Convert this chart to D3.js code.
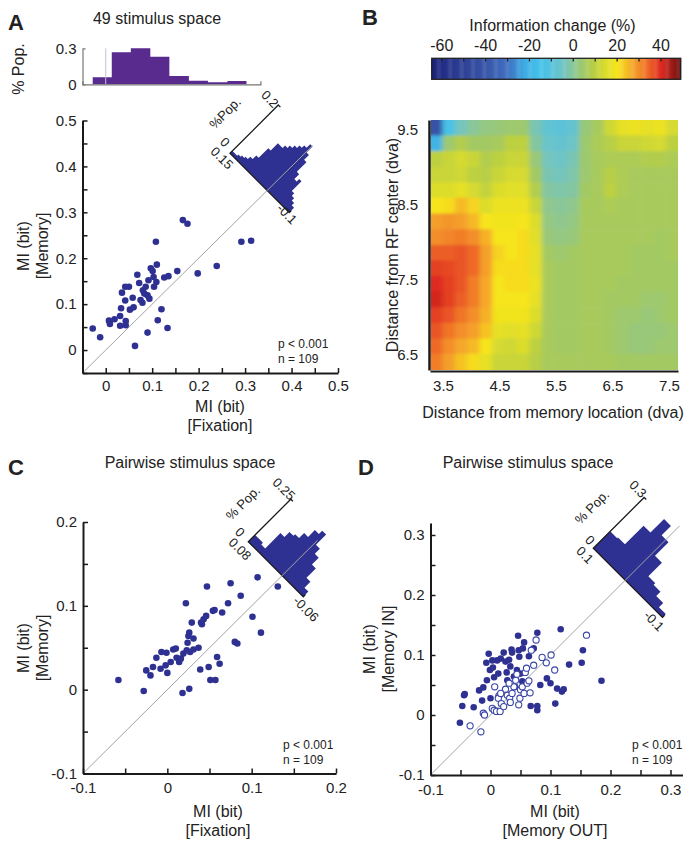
<!DOCTYPE html>
<html><head><meta charset="utf-8">
<script src="https://cdn.jsdelivr.net/npm/d3@7/dist/d3.min.js"></script>
<style>
html,body{margin:0;padding:0;background:#fff;}
svg{display:block;}
</style></head><body>
<svg id="fig" width="694" height="850" xmlns="http://www.w3.org/2000/svg"></svg>
<script>
// ================= DATA =================
// Panel A : 49 stimulus space
const fixA=[-0.028,-0.012,0.007,0.009,0.019,0.031,0.031,0.033,0.035,0.042,0.050,0.042,0.043,0.043,0.052,0.058,0.060,0.063,0.068,0.072,0.075,0.079,0.080,0.083,0.086,0.090,0.090,0.092,0.094,0.097,0.101,0.103,0.104,0.108,0.110,0.109,0.112,0.120,0.126,0.135,0.133,0.154,0.166,0.176,0.198,0.239,0.292,0.313];
const memA=[0.047,0.028,0.064,0.057,0.067,0.053,0.074,0.091,0.125,0.138,0.138,0.108,0.063,0.054,0.088,0.114,0.093,0.009,0.164,0.146,0.109,0.103,0.130,0.123,0.138,0.119,0.038,0.152,0.112,0.178,0.172,0.159,0.138,0.236,0.186,0.148,0.065,0.089,0.158,0.161,0.048,0.172,0.283,0.275,0.167,0.183,0.236,0.238];
const topHistEdges=[-0.028,0.013,0.054,0.096,0.137,0.179,0.220,0.262,0.303];
const topHistPop=[0.058,0.267,0.30,0.23,0.069,0.03,0.017,0.028];
const histAVal=[0.145,0.135,0.125,0.115,0.105,0.095,0.085,0.075,0.065,0.055,0.045,0.035,0.025,0.015,0.005,-0.005,-0.015,-0.025,-0.035,-0.045,-0.055,-0.065,-0.075,-0.085,-0.095];
const histAPop=[0.01,0.01,0.015,0.02,0.025,0.035,0.05,0.09,0.12,0.12,0.13,0.14,0.15,0.16,0.17,0.185,0.16,0.14,0.10,0.08,0.09,0.05,0.04,0.03,0.02];
const ticksA=[-0.05,0,0.05,0.1,0.15,0.2,0.25,0.3,0.35,0.4,0.45,0.5];

// Panel B : information change map
const memDist=[3.38,3.60,3.82,4.04,4.26,4.48,4.70,4.92,5.14,5.36,5.58,5.80,6.02,6.24,6.46,6.68,6.90,7.12,7.34,7.56];
const rfDist=[9.53,9.32,9.11,8.90,8.70,8.49,8.28,8.07,7.86,7.66,7.45,7.24,7.03,6.82,6.62,6.41];
const infoChange=[
[-42,-14,-4,0,2,3,4,4,-3,-8,-9,-7,3,6,13,17,18,17,18,14],
[-20,4,8,5,5,6,10,10,-1,-6,-7,-5,4,7,9,12,12,13,14,10],
[10,12,14,12,8,10,12,12,3,-4,-5,-3,4,6,7,7,7,8,8,7],
[12,12,13,10,9,12,14,14,5,-3,-4,-2,4,6,9,7,6,6,6,6],
[15,15,17,14,11,15,16,16,8,-1,-2,-1,5,6,10,7,6,6,6,6],
[20,21,25,22,15,18,18,18,12,1,0,1,6,6,7,6,6,6,6,6],
[28,29,28,25,20,19,19,20,15,2,1,2,6,6,6,6,6,6,6,6],
[30,31,32,30,26,20,20,21,16,3,2,3,6,6,6,6,6,6,5,6],
[35,35,36,34,28,22,20,21,17,5,4,5,6,6,6,6,5,5,5,6],
[38,37,36,34,28,21,21,21,17,6,5,5,6,6,6,6,5,5,5,5],
[40,38,36,32,27,20,21,21,18,6,5,5,6,6,6,5,5,5,5,5],
[41,38,35,32,27,20,20,20,17,6,5,5,6,6,5,5,5,4,4,5],
[38,36,33,30,26,19,19,19,15,6,5,5,6,6,5,4,4,3,4,5],
[36,33,30,28,24,17,16,17,13,6,5,5,6,6,5,4,3,3,3,4],
[34,30,27,25,20,14,13,15,10,6,5,5,6,6,5,4,3,3,4,4],
[32,28,24,21,17,12,12,12,9,6,6,6,6,6,6,5,5,5,5,5]];
const cbStops=[-65,-60,-40,-30,-22,-15,-10,-5,0,5,10,15,20,27,33,40,49];
const cbColors=["#1b2272","#232d86","#3956a8","#3f6fc2","#3eaee4","#45c2ea","#58c2dc","#6ec4c6","#8ac798","#a3c964","#bcd040","#dcdd2c","#f6e51c","#f5a72a","#f07428","#df2a20","#6a1010"];
const cbTicks=[-60,-50,-40,-30,-20,-10,0,10,20,30,40];
const cbLabels=[-60,-40,-20,0,20,40];
const hmXTicks=[3.5,4.5,5.5,6.5,7.5];
const hmYTicks=[6.5,7.5,8.5,9.5];

// Panel C : pairwise stimulus space
const fixC=[-0.058,-0.028,-0.025,-0.020,-0.017,-0.013,-0.008,-0.007,-0.002,-0.001,0.000,0.004,0.007,0.010,0.011,0.014,0.016,0.018,0.019,0.022,0.023,0.024,0.025,0.026,0.026,0.027,0.029,0.031,0.031,0.037,0.039,0.040,0.041,0.043,0.046,0.047,0.049,0.051,0.054,0.056,0.057,0.059,0.062,0.065,0.072,0.075,0.080,0.083,0.087,0.101,0.111,0.131,0.107];
const memC=[0.0115,-0.0016,0.023,0.017,0.027,0.038,0.025,0.045,0.029,0.044,0.020,0.033,0.048,0.049,0.038,0.033,0.037,-0.004,0.043,0.103,0.047,0.056,0.064,0.068,0.001,0.045,0.080,0.048,0.061,0.050,0.024,0.080,0.078,0.084,0.088,0.123,0.027,0.0115,0.094,0.095,0.0115,0.039,0.031,0.092,0.103,0.127,0.057,0.055,0.112,0.087,0.068,0.123,0.134];
const histCVal=[0.075,0.065,0.055,0.045,0.035,0.025,0.015,0.005,-0.005,-0.015,-0.025,-0.035,-0.045,-0.055];
const histCPop=[0.04,0.04,0.03,0.12,0.15,0.16,0.19,0.23,0.25,0.19,0.16,0.12,0.065,0.03];
const ticksC=[-0.1,-0.05,0,0.05,0.1,0.15,0.2];

// Panel D : Memory IN vs Memory OUT
const outFilled=[-0.051,-0.047,-0.044,-0.043,-0.028,-0.019,-0.014,-0.007,-0.006,-0.003,-0.001,0.000,0.003,0.004,0.006,0.011,0.013,0.017,0.022,0.025,0.027,0.028,0.031,0.033,0.035,0.036,0.039,0.041,0.044,0.046,0.047,0.048,0.050,0.053,0.056,0.054,0.058,0.064,0.067,0.072,0.078,0.078,0.078,0.083,0.094,0.100,0.108,0.111,0.117,0.119,0.122,0.131,0.152,0.154,0.185,-0.012];
const inFilled=[-0.013,0.015,0.033,0.035,0.013,0.041,0.024,0.087,0.058,0.102,0.075,0.028,0.091,0.079,0.063,0.091,0.069,0.094,0.104,0.089,0.071,0.058,0.092,0.081,0.109,0.104,0.064,0.047,0.075,0.132,0.108,0.097,0.069,0.056,0.121,0.111,0.053,0.098,0.015,0.111,0.137,0.015,0.008,0.050,0.061,0.053,0.019,0.044,0.143,0.039,0.043,0.084,0.087,0.108,0.057,0.046];
const outOpen=[-0.034,-0.016,-0.012,-0.010,0.003,0.006,0.010,0.016,0.007,0.014,0.013,0.018,0.022,0.025,0.028,0.032,0.033,0.036,0.039,0.042,0.044,0.047,0.049,0.050,0.053,0.056,0.058,0.060,0.061,0.064,0.066,0.068,0.072,0.076,0.086,0.093,0.101,0.107,0.160,0.031,0.017];
const inOpen=[-0.018,-0.028,0.003,0.000,0.011,0.008,0.006,0.006,0.047,0.032,0.028,0.019,0.014,0.043,0.033,0.028,0.021,0.036,0.047,0.058,0.068,0.017,0.028,0.042,0.047,0.036,0.071,0.078,0.053,0.057,0.037,0.108,0.083,0.125,0.096,0.087,0.100,0.075,0.133,0.053,0.036];
const histDVal=[0.09,0.07,0.05,0.03,0.01,-0.01,-0.03,-0.05,-0.07,-0.09];
const histDPop=[0.10,0.105,0.215,0.295,0.24,0.16,0.08,0.07,0.045,0.02];
const ticksD=[-0.1,-0.05,0,0.05,0.1,0.15,0.2,0.25,0.3];

// ================= DRAW =================
const FONT='"Liberation Sans", Arial, Helvetica, sans-serif';
const DOT="#2e3192", HIST="#2e3192", PURPLE="#5a2b8f", INK="#1a1a1a", TXT="#222";
const svg=d3.select("#fig");

function T(x,y,s,size,opt={}){
  const t=svg.append("text").attr("x",0).attr("y",0).text(s)
    .attr("font-family",FONT).attr("font-size",size).attr("fill",opt.fill||TXT)
    .attr("text-anchor",opt.anchor||"middle")
    .attr("transform",`translate(${x},${y}) rotate(${opt.rot||0})`);
  if(opt.weight) t.attr("font-weight",opt.weight);
  if(opt.baseline) t.attr("dominant-baseline",opt.baseline);
  return t;
}
function fmt1(v){const r=Math.round(v*10)/10;return Math.abs(v-r)<1e-9?(r===0?"0":String(r)):"";}
function styleAxis(g){
  g.attr("font-family",null).attr("font-size",null);
  g.select(".domain").attr("stroke",INK).attr("stroke-width",2);
  g.selectAll(".tick line").attr("stroke",INK).attr("stroke-width",1.5);
  g.selectAll(".tick text").attr("font-size",15).attr("fill",TXT).attr("font-family",FONT);
}
function scatterAxes(x,y,xt,yt,padX,padY){
  svg.append("g").attr("transform",`translate(0,${y.range()[0]})`)
    .call(d3.axisBottom(x).tickValues(xt).tickSizeInner(-5).tickSizeOuter(0).tickPadding(padX).tickFormat(fmt1)).call(styleAxis);
  svg.append("g").attr("transform",`translate(${x.range()[0]},0)`)
    .call(d3.axisLeft(y).tickValues(yt).tickSizeInner(-5).tickSizeOuter(0).tickPadding(padY).tickFormat(fmt1)).call(styleAxis);
}
function diagonal(x,y,lo,hi){
  svg.append("line").attr("x1",x(lo)).attr("y1",y(lo)).attr("x2",x(hi)).attr("y2",y(hi))
    .attr("stroke","#a3a3a3").attr("stroke-width",1);
}
function inset(o){
  const g=svg.append("g").attr("transform",`translate(${o.origin[0]},${o.origin[1]}) rotate(45)`);
  const u=d3.scaleLinear().domain(o.valDomain).range([0,o.uLen]);
  const v=d3.scaleLinear().domain([0,o.popMax]).range([0,o.vLen]);
  const pts=[[u(o.vals[0]+o.binW/2),0]];
  o.vals.forEach((val,i)=>{
    pts.push([u(val+o.binW/2),-v(o.pops[i])]);
    pts.push([u(val-o.binW/2),-v(o.pops[i])]);
  });
  pts.push([u(o.vals[o.vals.length-1]-o.binW/2),0]);
  g.append("path").attr("d",d3.line()(pts)+"Z").attr("fill",HIST).attr("stroke","none");
  g.append("path").attr("d",`M3,${-o.vLen}H0V0H${o.uLen}V-3`).attr("fill","none").attr("stroke",INK).attr("stroke-width",1.3);
}
function dots(x,y,xs,ys,open){
  svg.append("g").selectAll("circle").data(xs).join("circle")
    .attr("cx",d=>x(d)).attr("cy",(d,i)=>y(ys[i])).attr("r",open?3.1:3.3)
    .attr("fill",open?"#fff":DOT).attr("stroke",open?"#3a45a6":"none").attr("stroke-width",open?1.1:0);
}

// ---------- Panel A ----------
const xA=d3.scaleLinear().domain([-0.05,0.5]).range([82.5,338]);
const yA=d3.scaleLinear().domain([-0.05,0.5]).range([373,120.5]);
const yTop=d3.scaleLinear().domain([0,0.3]).range([84.3,48.3]);
const topPts=[[xA(topHistEdges[0]),yTop(0)]];
topHistPop.forEach((p,i)=>{topPts.push([xA(topHistEdges[i]),yTop(p)]);topPts.push([xA(topHistEdges[i+1]),yTop(p)]);});
topPts.push([xA(topHistEdges[topHistEdges.length-1]),yTop(0)]);
svg.append("path").attr("d",d3.line()(topPts)+"Z").attr("fill",PURPLE);
svg.append("line").attr("x1",xA(0)).attr("x2",xA(0)).attr("y1",yTop(0)).attr("y2",yTop(0.3)).attr("stroke","#c4c0cc").attr("stroke-width",1);
const xTopAx=d3.scaleLinear().domain([-0.05,0.333]).range([xA(-0.05),xA(0.333)]);
svg.append("g").attr("transform",`translate(0,${yTop(0)})`).call(d3.axisBottom(xTopAx).tickValues([]).tickSizeOuter(-3))
  .call(g=>g.select(".domain").attr("stroke","#777").attr("stroke-width",1.2));
svg.append("g").attr("transform",`translate(${xA(-0.05)},0)`).call(d3.axisLeft(yTop).tickValues([0,0.3]).tickSizeInner(0).tickSizeOuter(-3).tickPadding(6).tickFormat(d=>d===0?"0":String(d)))
  .call(g=>{g.attr("font-family",null).attr("font-size",null);g.select(".domain").attr("stroke","#777").attr("stroke-width",1.2);g.selectAll(".tick line").remove();g.selectAll(".tick text").attr("font-size",15).attr("font-family",FONT).attr("fill",TXT);});
T(24,69,"% Pop.",16,{rot:-90});
T(157,24,"49 stimulus space",16);
T(8,30,"A",22,{anchor:"start",weight:"bold"});
inset({origin:[230,153.3],uLen:83.8,vLen:68.3,valDomain:[0.15,-0.1],popMax:0.2,vals:histAVal,pops:histAPop,binW:0.01});
diagonal(xA,yA,-0.05,0.445);
dots(xA,yA,fixA,memA,false);
scatterAxes(xA,yA,ticksA,ticksA,7,6);
T(225,113,"%Pop.",13,{rot:-45,baseline:"central"});
T(270,99,"0.2",13,{rot:45,baseline:"central"});
T(225,142,"0",13,{rot:45,baseline:"central"});
T(222,158,"0.15",13,{rot:45,baseline:"central"});
T(287,214,"-0.1",13,{rot:45,baseline:"central"});
T(278,348,"p < 0.001",12,{anchor:"start"});
T(278,363,"n = 109",12,{anchor:"start"});
T(220,412,"MI (bit)",16);
T(220,431,"[Fixation]",16);
T(29,246,"MI (bit)",16,{rot:-90});
T(48,246,"[Memory]",16,{rot:-90});

// ---------- Panel B ----------
const cScale=d3.scaleLinear().domain(cbStops).range(cbColors).interpolate(d3.interpolateRgb).clamp(true);
const cbX=d3.scaleLinear().domain([-64.6,49]).range([431.7,680.7]);
const cbVals=d3.range(-64.6,49,0.5);
svg.append("g").selectAll("rect").data(cbVals).join("rect")
  .attr("x",d=>cbX(d)).attr("width",d=>cbX(Math.min(d+0.5,49))-cbX(d)+0.4)
  .attr("y",58.3).attr("height",21).attr("fill",d=>cScale(d+0.25));
svg.append("rect").attr("x",431.7).attr("y",58.3).attr("width",249).attr("height",21).attr("fill","none").attr("stroke","#222").attr("stroke-width",1.3);
svg.append("g").selectAll("line").data(cbTicks).join("line")
  .attr("x1",d=>cbX(d)).attr("x2",d=>cbX(d)).attr("y1",58.3).attr("y2",61.5).attr("stroke","#222").attr("stroke-width",1.3);
cbLabels.forEach(v=>T(cbX(v),51,String(v),16));
T(552.5,31,"Information change (%)",16);
T(362,25,"B",22,{anchor:"start",weight:"bold"});

const xH=d3.scaleLinear().domain([3.27,7.66]).range([430,678]);
const yH=d3.scaleLinear().domain([6.3,9.63]).range([370,120]);
function edges(c){const e=[];for(let i=0;i<=c.length;i++){if(i===0)e.push(c[0]-(c[1]-c[0])/2);else if(i===c.length)e.push(c[i-1]+(c[i-1]-c[i-2])/2);else e.push((c[i-1]+c[i])/2);}return e;}
const xe=edges(memDist), ye=edges(rfDist);
const defs=svg.append("defs");
defs.append("clipPath").attr("id","hmclip").append("rect").attr("x",431).attr("y",120).attr("width",247).attr("height",250);
const fl=defs.append("filter").attr("id","hmblur").attr("x","-5%").attr("y","-5%").attr("width","110%").attr("height","110%");
fl.append("feGaussianBlur").attr("stdDeviation","2.4 1.6");
const cells=[];
infoChange.forEach((row,r)=>row.forEach((v,c)=>cells.push({r,c,v})));
svg.append("g").attr("clip-path","url(#hmclip)").append("g").attr("filter","url(#hmblur)")
  .selectAll("rect").data(cells).join("rect")
  .attr("x",d=>xH(xe[d.c])-(d.c===0?6:0)).attr("y",d=>yH(ye[d.r])-(d.r===0?6:0))
  .attr("width",d=>xH(xe[d.c+1])-xH(xe[d.c])+0.6+(d.c===0||d.c===memDist.length-1?6:0))
  .attr("height",d=>yH(ye[d.r+1])-yH(ye[d.r])+0.6+(d.r===0||d.r===rfDist.length-1?6:0))
  .attr("fill",d=>cScale(d.v));
svg.append("g").attr("transform","translate(0,371)").call(d3.axisBottom(xH).tickValues(hmXTicks).tickSize(0).tickPadding(9).tickFormat(d3.format(".1f")))
  .call(g=>{g.attr("font-family",null).attr("font-size",null);g.select(".domain").attr("stroke",INK).attr("stroke-width",2.2);g.selectAll(".tick text").attr("font-size",15).attr("font-family",FONT).attr("fill",TXT);});
svg.append("g").attr("transform","translate(429,0)").call(d3.axisLeft(yH).tickValues(hmYTicks).tickSize(0).tickPadding(11).tickFormat(d3.format(".1f")))
  .call(g=>{g.attr("font-family",null).attr("font-size",null);g.select(".domain").attr("stroke",INK).attr("stroke-width",2.5);g.selectAll(".tick text").attr("font-size",15).attr("font-family",FONT).attr("fill",TXT);});
T(553,418,"Distance from memory location (dva)",16);
T(398,245,"Distance from RF center (dva)",16,{rot:-90});

// ---------- Panel C ----------
const xC=d3.scaleLinear().domain([-0.1,0.2]).range([83,336]);
const yC=d3.scaleLinear().domain([-0.1,0.2]).range([773.5,522]);
inset({origin:[248.3,541.7],uLen:77.8,vLen:60.1,valDomain:[0.08,-0.06],popMax:0.25,vals:histCVal,pops:histCPop,binW:0.01});
diagonal(xC,yC,-0.1,0.178);
dots(xC,yC,fixC,memC,false);
scatterAxes(xC,yC,ticksC,ticksC,9,6);
T(243,503,"% Pop.",13,{rot:-45,baseline:"central"});
T(284,489,"0.25",13,{rot:45,baseline:"central"});
T(240,532,"0",13,{rot:45,baseline:"central"});
T(240,549,"0.08",13,{rot:45,baseline:"central"});
T(306,609,"-0.06",13,{rot:45,baseline:"central"});
T(283,749,"p < 0.001",12,{anchor:"start"});
T(283,764,"n = 109",12,{anchor:"start"});
T(218,817,"MI (bit)",16);
T(218,836,"[Fixation]",16);
T(29,648,"MI (bit)",16,{rot:-90});
T(48,648,"[Memory]",16,{rot:-90});
T(190,468,"Pairwise stimulus space",16);
T(8,475,"C",22,{anchor:"start",weight:"bold"});

// ---------- Panel D ----------
const xD=d3.scaleLinear().domain([-0.1,0.32]).range([430.5,682.5]);
const yD=d3.scaleLinear().domain([-0.1,0.32]).range([775,523]);
inset({origin:[593.3,548.3],uLen:97.8,vLen:71.9,valDomain:[0.1,-0.1],popMax:0.3,vals:histDVal,pops:histDPop,binW:0.02});
diagonal(xD,yD,-0.1,0.315);
dots(xD,yD,outFilled,inFilled,false);
dots(xD,yD,outOpen,inOpen,true);
scatterAxes(xD,yD,ticksD,ticksD,9,6);
T(592,507,"% Pop.",13,{rot:-45,baseline:"central"});
T(638,489,"0.3",13,{rot:45,baseline:"central"});
T(590,540,"0",13,{rot:45,baseline:"central"});
T(585,555,"0.1",13,{rot:45,baseline:"central"});
T(654,621,"-0.1",13,{rot:45,baseline:"central"});
T(632,749,"p < 0.001",12,{anchor:"start"});
T(632,764,"n = 109",12,{anchor:"start"});
T(555,817,"MI (bit)",16);
T(555,836,"[Memory OUT]",16);
T(375,649,"MI (bit)",16,{rot:-90});
T(394,649,"[Memory IN]",16,{rot:-90});
T(528,468,"Pairwise stimulus space",16);
T(358,475,"D",22,{anchor:"start",weight:"bold"});
</script></body></html>
